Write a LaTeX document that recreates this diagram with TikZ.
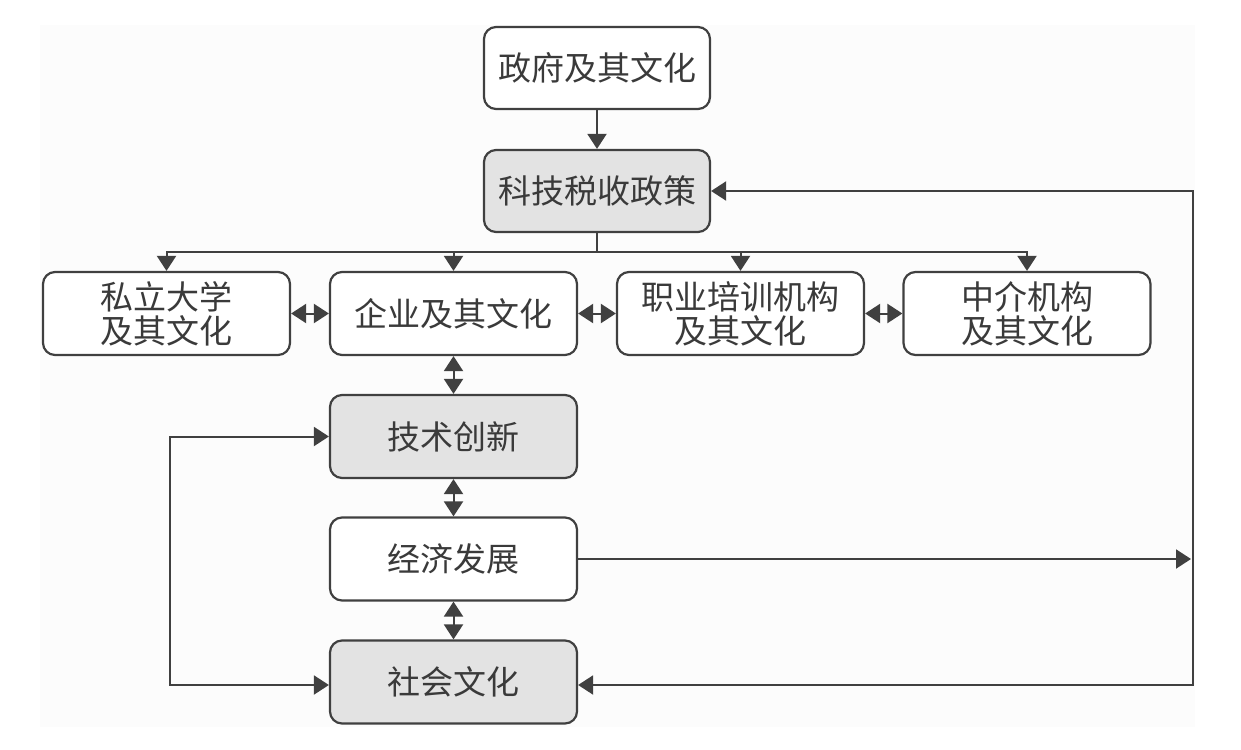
\documentclass[tikz,border=0pt]{standalone}
\usepackage{fontspec}
\setmainfont{Noto Sans CJK SC}
\usetikzlibrary{arrows.meta}
\definecolor{ln}{HTML}{404040}
\definecolor{gf}{HTML}{E3E3E3}
\definecolor{tx}{HTML}{3A3A3A}
\definecolor{bg}{HTML}{FCFCFC}
\begin{document}
\begin{tikzpicture}[x=1pt,y=-1pt,
  tip/.tip={Triangle[length=15pt,width=19pt]},
  box/.style={draw=ln,line width=2.2pt,rounded corners=12pt,fill=white,
    inner sep=0pt,minimum width=247pt,minimum height=83pt,align=center,
    text=tx,font=\fontsize{33}{34}\selectfont},
  gbox/.style={box,fill=gf},
  conn/.style={draw=ln,line width=2pt,-tip},
  bconn/.style={draw=ln,line width=2pt,tip-tip},
  plain/.style={draw=ln,line width=2pt}]
\useasboundingbox (0,0) rectangle (1241,749);
\fill[bg] (40,25) rectangle (1195,727);
\node[box,minimum width=226pt,minimum height=82pt] (gov) at (597,68) {政府及其文化};
\node[gbox,minimum width=226pt,minimum height=82pt] (tax) at (597,191) {科技税收政策};
\node[box] (pri) at (166.5,313.5) {私立大学\\及其文化};
\node[box] (ent) at (453.5,313.5) {企业及其文化};
\node[box] (voc) at (740.5,313.5) {职业培训机构\\及其文化};
\node[box] (agt) at (1027,313.5) {中介机构\\及其文化};
\node[gbox] (tech) at (453.5,436.5) {技术创新};
\node[box] (econ) at (453.5,559) {经济发展};
\node[gbox] (soc) at (453.5,682) {社会文化};
\coordinate (br) at (597,252);
\coordinate (L1) at (170,436.5);
\coordinate (L2) at (170,685);
\coordinate (R1) at (1193,191);
\coordinate (R2) at (1193,685);
\coordinate (Rm) at (1191,559);
\draw[conn] (gov) -- (tax);
\draw[plain] (tax.south) -- (br);
\draw[conn] (br) -| (pri.north);
\draw[conn] (br) -| (ent.north);
\draw[conn] (br) -| (voc.north);
\draw[conn] (br) -| (agt.north);
\draw[bconn] (pri.east) -- (ent.west);
\draw[bconn] (ent.east) -- (voc.west);
\draw[bconn] (voc.east) -- (agt.west);
\draw[bconn] (ent.south) -- (tech.north);
\draw[bconn] (tech.south) -- (econ.north);
\draw[bconn] (econ.south) -- (soc.north);
\draw[bconn] (tech.west) -- (L1) -- (L2) -- (soc.west |- L2);
\draw[bconn] (tax.east) -- (R1) -- (R2) -- (soc.east |- R2);
\draw[conn] (econ.east) -- (Rm);
\end{tikzpicture}
\end{document}
